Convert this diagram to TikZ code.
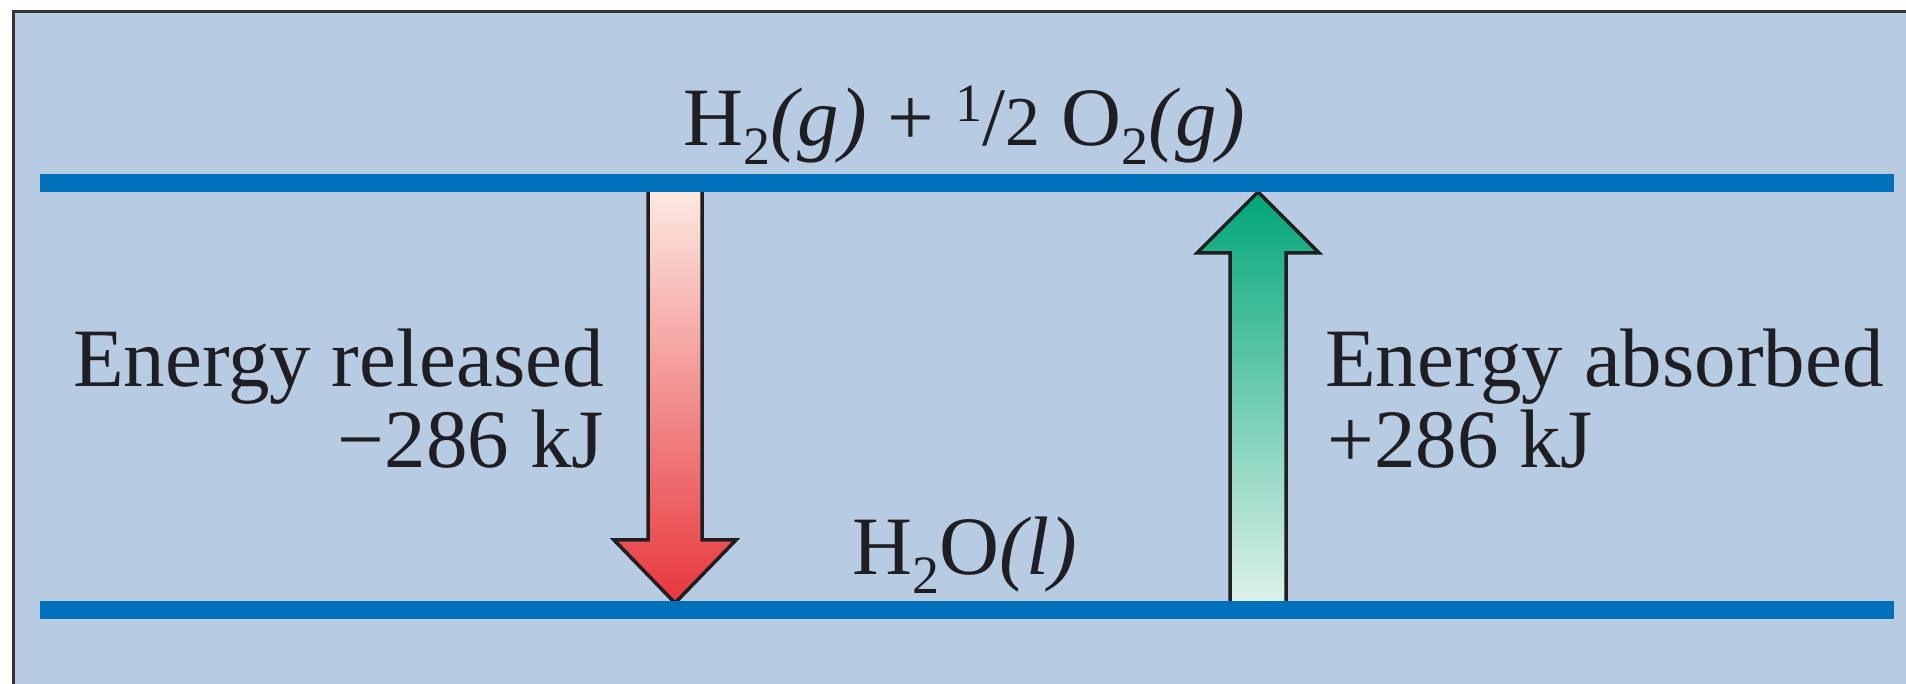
\documentclass[tikz,border=0pt]{standalone}
\usepackage{fontspec}
\setmainfont{Liberation Serif}
\definecolor{bg}{RGB}{183,203,227}
\definecolor{lvl}{RGB}{0,112,186}
\definecolor{txt}{RGB}{30,30,35}
\definecolor{redtop}{RGB}{253,236,228}
\definecolor{redbot}{RGB}{232,54,60}
\definecolor{grntop}{RGB}{0,166,120}
\definecolor{grnbot}{RGB}{226,243,236}
\newcommand\mysub[1]{\raisebox{-0.22em}{\fontsize{54}{54}\selectfont #1}}
\newcommand\mysup[1]{\raisebox{0.3em}{\fontsize{54}{54}\selectfont #1}}
\tikzset{
  lab/.style={inner sep=0pt, text=txt, font=\fontsize{83}{83}\selectfont},
  level/.style={draw=lvl, line width=18pt},
  blockarrow/.style={draw=black!88, line width=3.5pt, line join=miter},
  frameline/.style={draw=black!80, line width=3pt}
}
\begin{document}
\begin{tikzpicture}[x=1pt,y=1pt]
\useasboundingbox (0,0) rectangle (1906,684);
\fill[white] (0,0) rectangle (1906,684);
\fill[bg] (13,0) rectangle (1906,672);
\draw[frameline] (13,0) -- (13,672) -- (1906,672);

% level coordinates
\coordinate (tl) at (40,501);
\coordinate (tr) at (1894,501);
\coordinate (bl) at (40,74);
\coordinate (br) at (1894,74);

% red arrow (energy released)
\coordinate (rtop) at (675,500);
\coordinate (rtip) at (675,81);
\path[blockarrow, top color=redtop, bottom color=redbot]
  ([xshift=-27pt]rtop) -- ([xshift=-27pt]rtip |- 0,144) -- ([xshift=-61pt]rtip |- 0,144)
  -- (rtip) -- ([xshift=61pt]rtip |- 0,144) -- ([xshift=27pt]rtip |- 0,144)
  -- ([xshift=27pt]rtop);

% green arrow (energy absorbed)
\coordinate (gbot) at (1258,74);
\coordinate (gtip) at (1258,492);
\path[blockarrow, top color=grntop, bottom color=grnbot]
  ([xshift=-28pt]gbot) -- ([xshift=-28pt]gtip |- 0,431) -- ([xshift=-61pt]gtip |- 0,431)
  -- (gtip) -- ([xshift=61pt]gtip |- 0,431) -- ([xshift=28pt]gtip |- 0,431)
  -- ([xshift=28pt]gbot);

% levels
\draw[level] (tl) -- (tr);
\draw[level] (bl) -- (br);

% labels
\node[lab, anchor=base] (react) at (964,538)
  {H\mysub{2}\textit{(g)}\ + \mysup{1}/{\fontsize{70}{70}\selectfont 2} O\mysub{2}\textit{(g)}};
\node[lab, anchor=base] (prod) at (965,109) {H\mysub{2}O\textit{(l)}};
\node[lab, anchor=base east] (rel1) at (604,297) {Energy released};
\node[lab, anchor=base east] (rel2) at (604,216) {−286 kJ};
\node[lab, anchor=base west] (abs1) at (1325,297) {Energy absorbed};
\node[lab, anchor=base west] (abs2) at (1327,216) {+286 kJ};
\end{tikzpicture}
\end{document}
